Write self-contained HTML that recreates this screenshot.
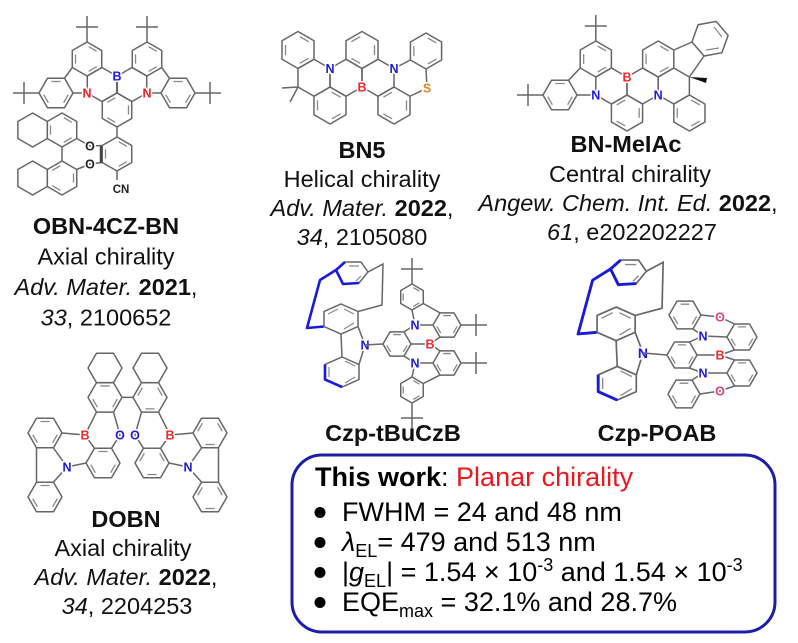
<!DOCTYPE html>
<html><head><meta charset="utf-8"><style>
html,body{margin:0;padding:0;background:#fff;}
svg{display:block;}
</style></head><body>
<svg width="798" height="643" viewBox="0 0 798 643" xmlns="http://www.w3.org/2000/svg" xmlns:xlink="http://www.w3.org/1999/xlink">
<defs>
<g id="A"><polygon points="0,-1 .866,-.5 .866,.5 0,1 -.866,.5 -.866,-.5" fill="none" stroke="#666" stroke-width="1.5" stroke-linejoin="round" vector-effect="non-scaling-stroke"/><path d="M.101,-.722L.574,-.449M.574,.449L.101,.722M-.675,.273L-.675,-.273" fill="none" stroke="#888" stroke-width="1.3" vector-effect="non-scaling-stroke"/></g>
<g id="C"><polygon points="0,-1 .866,-.5 .866,.5 0,1 -.866,.5 -.866,-.5" fill="none" stroke="#666" stroke-width="1.5" stroke-linejoin="round" vector-effect="non-scaling-stroke"/></g>
<g id="T"><path d="M0,0V-26M-11,-15H11" fill="none" stroke="#666" stroke-width="1.5"/></g>
<g id="czp">
  <polygon points="336,270 345,262 361,262 368,272 359,283 343,284" fill="none" stroke="#666" stroke-width="1.5"/>
  <path d="M349,266L359,266M361,276L356,281" fill="none" stroke="#888" stroke-width="1.2"/>
  <path d="M345,262L336,270L343,284L359,283" fill="none" stroke="#1a1ad8" stroke-width="2.6" stroke-linejoin="round"/>
  <path d="M336,270L320,280L307,328L324,326.5" fill="none" stroke="#1a1ad8" stroke-width="2.6" stroke-linejoin="round"/>
  <path d="M368,272L383,264L382,305L358,311.5" fill="none" stroke="#666" stroke-width="1.5"/>
  <polygon points="341,304 358,311.5 358,326.5 341,334 324,326.5 324,311.5" fill="none" stroke="#666" stroke-width="1.5"/>
  <path d="M328,314L338,309M344,309L354,314M354,323L344,329" fill="none" stroke="#888" stroke-width="1.2"/>
  <polygon points="342,357 359,364.5 359,379.5 342,387 325,379.5 325,364.5" fill="none" stroke="#666" stroke-width="1.5"/>
  <path d="M329,367L329,377M345,361L355,366M355,377L345,383" fill="none" stroke="#888" stroke-width="1.2"/>
  <path d="M325,364.5L325,379.5L342,387" fill="none" stroke="#1a1ad8" stroke-width="2.6" stroke-linejoin="round"/>
  <path d="M365,345L358,326.5M341,334L342,357M365,345L359,364.5" fill="none" stroke="#666" stroke-width="1.5"/>
  <text x="365" y="349.5" font-family="'Liberation Sans',Arial,sans-serif" font-size="12.5" font-weight="bold" text-anchor="middle" fill="#1a1ad8" stroke="#fff" stroke-width="3" paint-order="stroke">N</text>
</g>
</defs>

<!-- ===== OBN-4CZ-BN ===== -->
<use href="#A" transform="translate(87,59) scale(17)"/>
<use href="#A" transform="translate(147,59) scale(17)"/>
<use href="#C" transform="translate(102,84.5) scale(17)"/>
<use href="#C" transform="translate(132,84.5) scale(17)"/>
<use href="#A" transform="translate(117,110) scale(17) rotate(60)"/>
<use href="#A" transform="translate(56,93) rotate(90) scale(17)"/>
<use href="#A" transform="translate(178,93) rotate(90) scale(17)"/>
<use href="#A" transform="translate(117,154) scale(17)"/>
<use href="#A" transform="translate(62,130) scale(17)"/>
<use href="#C" transform="translate(32.6,130) scale(17)"/>
<use href="#A" transform="translate(62,178) scale(17) rotate(60)"/>
<use href="#C" transform="translate(32.6,178) scale(17)"/>
<use href="#T" transform="translate(87,42)"/>
<use href="#T" transform="translate(147,42)"/>
<use href="#T" transform="translate(39,93) rotate(-90)"/>
<use href="#T" transform="translate(195,93) rotate(90)"/>
<path d="M72.3,67.5L64.5,78.3M73,93L87,93M161.7,67.5L169.5,78.3M161,93L147,93M117,127L117,137M117,171L117,180M102.3,145.5L90,146M102.3,162.5L90,164M76.7,138.5L90,146M76.7,169.5L90,164M62,147L62,161" fill="none" stroke="#666" stroke-width="1.5"/>
<path d="M101,146L101,163" fill="none" stroke="#444" stroke-width="2.5"/>

<!-- ===== BN5 ===== -->
<use href="#A" transform="translate(298,50) scale(18.5)"/>
<use href="#C" transform="translate(314,77.75) scale(18.5)"/>
<use href="#C" transform="translate(346,77.75) scale(18.5)"/>
<use href="#C" transform="translate(378,77.75) scale(18.5)"/>
<use href="#A" transform="translate(362,50) scale(18.5) rotate(60)"/>
<use href="#A" transform="translate(330,105.5) scale(18.5)"/>
<use href="#A" transform="translate(394,105.5) scale(18.5) rotate(60)"/>
<use href="#A" transform="translate(426,51) scale(18)"/>
<path d="M394,68.5L410.4,60M426,69L427,88L410,96.25M298,87L282,88M298,87L290,102" fill="none" stroke="#666" stroke-width="1.5"/>

<!-- ===== BN-MeIAc ===== -->
<use href="#C" transform="translate(611.4,86) scale(18)"/>
<use href="#C" transform="translate(642.6,86) scale(18)"/>
<use href="#A" transform="translate(627,113) scale(18) rotate(60)"/>
<use href="#A" transform="translate(595.8,59) scale(18)"/>
<use href="#A" transform="translate(560,95) rotate(90) scale(17)"/>
<use href="#A" transform="translate(658.2,59) scale(18)"/>
<use href="#C" transform="translate(673.8,86) scale(18)"/>
<use href="#A" transform="translate(689.4,113) scale(18)"/>
<use href="#T" transform="translate(595.8,41)"/>
<use href="#T" transform="translate(543,95) rotate(-90)"/>
<path d="M580.2,68L568.5,80.3M577,95L595.8,95M673.8,50L692,42M704,56L689.4,77" fill="none" stroke="#666" stroke-width="1.5"/>
<polygon points="692,42 704,56 721.9,52.7 728.1,35.4 716.2,21.4 698.1,24.7" fill="none" stroke="#666" stroke-width="1.5"/>
<path d="M706,50L719,48M722,37L714,27" fill="none" stroke="#888" stroke-width="1.2"/>
<polygon points="689.4,77 707,78 706,83" fill="#111"/>

<!-- ===== Czp-tBuCzB ===== -->
<use href="#czp"/>
<use href="#A" transform="translate(397,344) rotate(90) scale(14)"/>
<use href="#A" transform="translate(447,325) rotate(90) scale(14)"/>
<use href="#A" transform="translate(447,363) rotate(90) scale(14)"/>
<use href="#A" transform="translate(412,297) scale(13)"/>
<use href="#A" transform="translate(412,390) scale(13)"/>
<use href="#T" transform="translate(461,325) rotate(90)"/>
<use href="#T" transform="translate(461,363) rotate(90)"/>
<use href="#T" transform="translate(412,284)"/>
<use href="#T" transform="translate(412,403) rotate(180)"/>
<path d="M365,345L383,344M430,344L411,344M430,344L440,337.1M430,344L440,350.9M415,325L404,331.9M415,325L412,310M415,325L433,325M415,363L404,356.1M415,363L412,377M415,363L433,363M423.3,303.5L440,312.9M423.3,383.5L440,375.1" fill="none" stroke="#666" stroke-width="1.5"/>

<!-- ===== Czp-POAB ===== -->
<use href="#czp" transform="translate(234.2,-33.4) scale(1.12)"/>
<use href="#A" transform="translate(682,355) rotate(90) scale(15)"/>
<use href="#A" transform="translate(685,315) rotate(90) scale(16)"/>
<use href="#A" transform="translate(742,337) rotate(90) scale(15)"/>
<use href="#A" transform="translate(742,373) rotate(90) scale(15)"/>
<use href="#A" transform="translate(684,394) rotate(90) scale(16)"/>
<path d="M643,353L667,355M703,336L689.5,342M703,336L727,337M703,336L693,329M703,373L689.5,368M703,373L727,373M703,373L692,380M720,355L697,355M720,355L734.5,350M720,355L734.5,360M720,317L701,315M720,317L734.5,324M720,391L700,394M720,391L734.5,386" fill="none" stroke="#666" stroke-width="1.5"/>

<!-- ===== DOBN ===== -->
<use href="#C" transform="translate(105,368) rotate(90) scale(17)"/>
<use href="#A" transform="translate(105,397.4) rotate(90) scale(17)"/>
<use href="#A" transform="translate(103,463) rotate(90) scale(17)"/>
<use href="#A" transform="translate(45,433) rotate(90) scale(17)"/>
<use href="#A" transform="translate(45,497) rotate(90) scale(17)"/>
<use href="#C" transform="translate(150,368) rotate(90) scale(17)"/>
<use href="#A" transform="translate(150,397.4) rotate(-90) scale(17)"/>
<use href="#A" transform="translate(152,463) rotate(-90) scale(17)"/>
<use href="#A" transform="translate(210,433) rotate(-90) scale(17)"/>
<use href="#A" transform="translate(210,497) rotate(-90) scale(17)"/>
<path d="M122,397.4L133,397.4M85,435L96.5,412.1M85,435L94.5,448.3M85,435L62,433M120,435L113.5,412.1M120,435L111.5,448.3M67,467L86,463M67,467L53.5,448M67,467L53.5,482M36.5,448L36.5,482M170,435L158.5,412.1M170,435L160.5,448.3M170,435L193,433M135,435L141.5,412.1M135,435L143.5,448.3M188,467L169,463M188,467L201.5,448M188,467L201.5,482M218.5,448L218.5,482" fill="none" stroke="#666" stroke-width="1.5"/>

<!-- ===== atom labels ===== -->
<g font-family="'Liberation Sans',Arial,sans-serif" font-size="12.5" font-weight="bold" text-anchor="middle" stroke="#fff" stroke-width="3" paint-order="stroke">
  <text x="117" y="80.5" fill="#1a1ad8">B</text>
  <text x="87" y="97.5" fill="#e82020">N</text>
  <text x="147" y="97.5" fill="#e82020">N</text>
  <text x="90" y="150.5" fill="#222">O</text>
  <text x="90" y="168.5" fill="#222">O</text>
  <text x="121" y="193" fill="#222" font-size="11.5">CN</text>
  <text x="330" y="73" fill="#1a1ad8">N</text>
  <text x="394" y="73" fill="#1a1ad8">N</text>
  <text x="362" y="91.5" fill="#ee2a2a">B</text>
  <text x="427" y="92.5" fill="#e8852a">S</text>
  <text x="627" y="81.5" fill="#ee2a2a">B</text>
  <text x="595.8" y="99.5" fill="#1a1ad8">N</text>
  <text x="658.2" y="99.5" fill="#1a1ad8">N</text>
  <text x="430" y="348.5" fill="#ee2a2a">B</text>
  <text x="415" y="329.5" fill="#1a1ad8">N</text>
  <text x="415" y="367.5" fill="#1a1ad8">N</text>
  <text x="720" y="359.5" fill="#ee2a2a">B</text>
  <text x="703" y="340.5" fill="#1a1ad8">N</text>
  <text x="703" y="377.5" fill="#1a1ad8">N</text>
  <text x="720" y="321.5" fill="#e83c78">O</text>
  <text x="720" y="395.5" fill="#e83c78">O</text>
  <text x="85" y="439.5" fill="#ee2a2a">B</text>
  <text x="170" y="439.5" fill="#ee2a2a">B</text>
  <text x="120" y="439.5" fill="#1a1ad8">O</text>
  <text x="135" y="439.5" fill="#1a1ad8">O</text>
  <text x="67" y="471.5" fill="#1a1ad8">N</text>
  <text x="188" y="471.5" fill="#1a1ad8">N</text>
</g>

<!-- ===== captions ===== -->
<g font-family="'Liberation Sans',Arial,sans-serif" font-size="23.5" fill="#111" text-anchor="middle">
  <text x="106" y="234" font-weight="bold">OBN-4CZ-BN</text>
  <text x="106" y="264.5">Axial chirality</text>
  <text x="106" y="295"><tspan font-style="italic">Adv. Mater.</tspan> <tspan font-weight="bold">2021</tspan>,</text>
  <text x="106" y="325.5"><tspan font-style="italic">33</tspan>, 2100652</text>

  <text x="362" y="158" font-weight="bold">BN5</text>
  <text x="362" y="187">Helical chirality</text>
  <text x="362" y="216"><tspan font-style="italic">Adv. Mater.</tspan> <tspan font-weight="bold">2022</tspan>,</text>
  <text x="362" y="245"><tspan font-style="italic">34</tspan>, 2105080</text>

  <text x="626" y="152" font-weight="bold">BN-MeIAc</text>
  <text x="630" y="182">Central chirality</text>
  <text x="628" y="211"><tspan font-style="italic">Angew. Chem. Int. Ed.</tspan> <tspan font-weight="bold">2022</tspan>,</text>
  <text x="632" y="240"><tspan font-style="italic">61</tspan>, e202202227</text>

  <text x="393" y="441" font-weight="bold">Czp-tBuCzB</text>
  <text x="657" y="441" font-weight="bold">Czp-POAB</text>

  <text x="126" y="527" font-weight="bold">DOBN</text>
  <text x="123" y="556">Axial chirality</text>
  <text x="126" y="585"><tspan font-style="italic">Adv. Mater.</tspan> <tspan font-weight="bold">2022</tspan>,</text>
  <text x="127" y="614"><tspan font-style="italic">34</tspan>, 2204253</text>
</g>

<!-- ===== This work box ===== -->
<rect x="292" y="455" width="483" height="177" rx="30" ry="30" fill="none" stroke="#1d1da8" stroke-width="3"/>
<g fill="#000">
  <circle cx="320" cy="512.5" r="5.5"/>
  <circle cx="320" cy="542.5" r="5.5"/>
  <circle cx="320" cy="572.5" r="5.5"/>
  <circle cx="320" cy="602.5" r="5.5"/>
</g>
<g font-family="'Liberation Sans',Arial,sans-serif" font-size="27" fill="#000">
  <text x="315" y="486"><tspan font-weight="bold">This work</tspan>: <tspan fill="#e8191f">Planar chirality</tspan></text>
  <text x="342" y="521">FWHM = 24 and 48 nm</text>
  <text x="342" y="551"><tspan font-style="italic">λ</tspan><tspan font-size="18" dy="6">EL</tspan><tspan dy="-6">= 479 and 513 nm</tspan></text>
  <text x="342" y="581">|<tspan font-style="italic">g</tspan><tspan font-size="18" dy="6">EL</tspan><tspan dy="-6">| = 1.54 × 10</tspan><tspan font-size="18" dy="-10">-3</tspan><tspan dy="10"> and 1.54 × 10</tspan><tspan font-size="18" dy="-10">-3</tspan></text>
  <text x="342" y="611">EQE<tspan font-size="18" dy="6">max</tspan><tspan dy="-6"> = 32.1% and 28.7%</tspan></text>
</g>
</svg>
</body></html>
